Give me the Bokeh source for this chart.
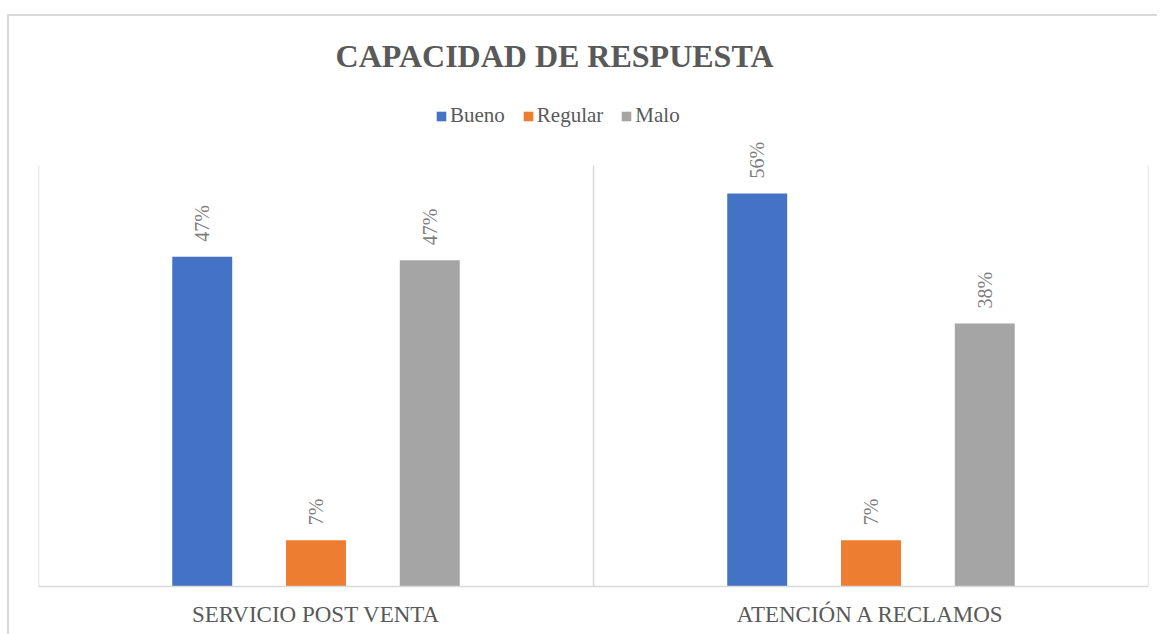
import math
from bokeh.plotting import figure
from bokeh.models import FixedTicker, Legend, LegendItem, Label, Range1d
from bokeh.embed import file_html
from bokeh.resources import INLINE
from bokeh.core.properties import value

categories = ["SERVICIO POST VENTA", "ATENCIÓN A RECLAMOS"]
series = ["Bueno", "Regular", "Malo"]
bueno = [0.47, 0.56]
regular = [0.066, 0.066]
malo = [0.465, 0.375]
bueno_labels = ["47%", "56%"]
regular_labels = ["7%", "7%"]
malo_labels = ["47%", "38%"]
y_max = 0.6
title_text = "CAPACIDAD DE RESPUESTA"

colors = ["#4472C4", "#ED7D31", "#A5A5A5"]
offsets = [-0.205, 0.0, 0.205]
values = [bueno, regular, malo]
label_sets = [bueno_labels, regular_labels, malo_labels]

FONT = "Liberation Serif"

# layout (pixels)
W, H = 1150, 620
ML, MR, MB, MT = 29, 11, 50, 0
frame_h = H - MB - MT
axis_px = 421  # pixel height of the value axis (0 .. y_max)
y_end = y_max * frame_h / axis_px

p = figure(width=W, height=H, x_range=Range1d(0, len(categories)), y_range=Range1d(0, y_end),
           output_backend="svg", toolbar_location=None,
           min_border_left=ML, min_border_right=MR, min_border_bottom=MB, min_border_top=MT)
p.styles = {"margin-left": "7px", "margin-top": "14px",
            "border-left": "2px solid #D9D9D9", "border-top": "2px solid #D9D9D9"}
p.outline_line_color = None
p.background_fill_color = "white"
p.title.visible = False

# category separators (vertical gridlines spanning the value axis)
bounds = list(range(len(categories) + 1))
p.segment(x0=bounds, y0=[0] * len(bounds), x1=bounds, y1=[y_max] * len(bounds),
          line_color="#D9D9D9", line_width=1.5)

items = []
for name, vals, col, off, labs in zip(series, values, colors, offsets, label_sets):
    xs = [i + 0.5 + off for i in range(len(categories))]
    r = p.vbar(x=xs, top=vals, width=0.108, fill_color=col, line_color=None)
    items.append(LegendItem(label=name, renderers=[r]))
    p.text(x=xs, y=vals, text=labs, angle=math.pi / 2, text_align="left", text_baseline="middle",
           y_offset=-15, text_font=value(FONT), text_font_size="20px", text_color="#7F7F7F")

p.yaxis.visible = False
p.ygrid.grid_line_color = None
p.xgrid.grid_line_color = None

ax = p.xaxis[0]
ax.ticker = FixedTicker(ticks=[i + 0.5 for i in range(len(categories))])
ax.major_label_overrides = {i + 0.5: c for i, c in enumerate(categories)}
ax.major_tick_line_color = None
ax.minor_tick_line_color = None
ax.axis_line_color = "#D9D9D9"
ax.axis_line_width = 1.5
ax.major_label_text_font = FONT
ax.major_label_text_font_size = "23px"
ax.major_label_text_color = "#595959"
ax.major_label_standoff = 9

legend = Legend(items=items, orientation="horizontal", location=(397, 458),
                label_text_font=FONT, label_text_font_size="21px", label_text_color="#595959",
                glyph_width=12, glyph_height=12, label_standoff=3, spacing=17,
                border_line_color=None, background_fill_alpha=0, padding=0, margin=0)
p.add_layout(legend, "center")

title = Label(x=516, y=531, x_units="screen", y_units="screen", text=title_text,
              text_align="center", text_baseline="middle", text_font=FONT,
              text_font_size="32px", text_font_style="bold", text_color="#595959")
p.add_layout(title)

open("out.html", "w").write(file_html(p, INLINE))
